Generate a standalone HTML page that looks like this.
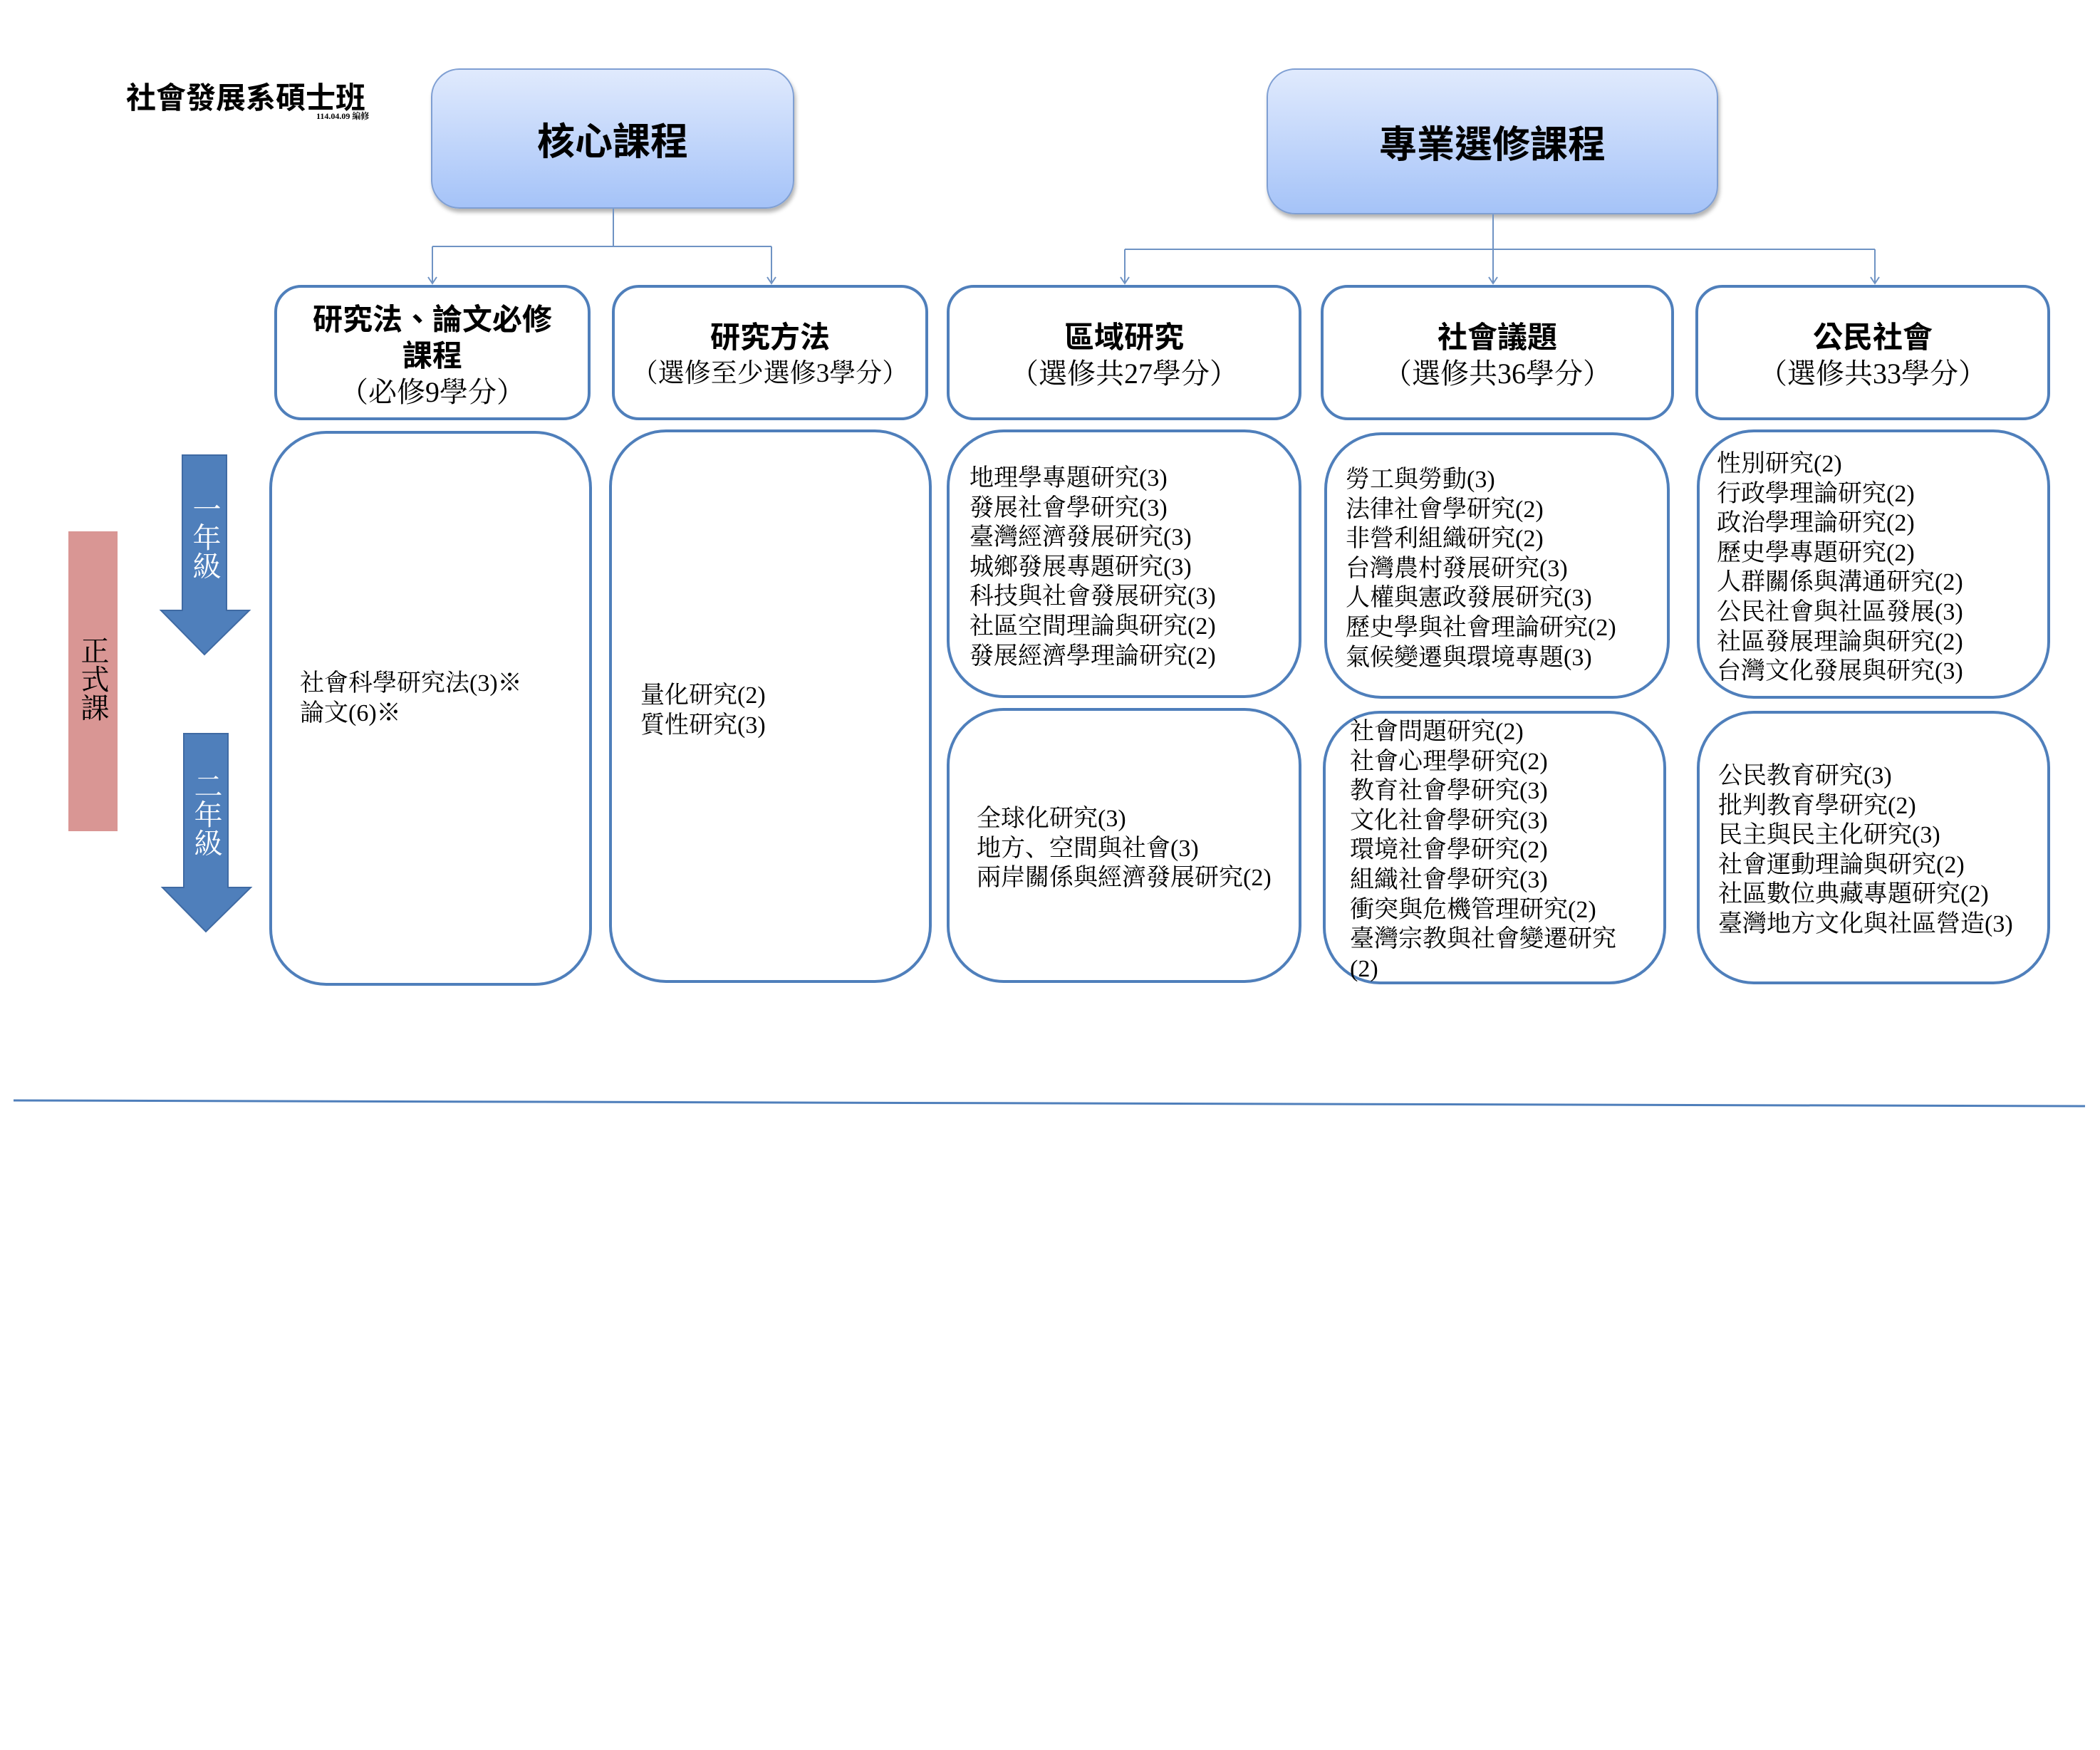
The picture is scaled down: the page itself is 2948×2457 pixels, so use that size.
<!DOCTYPE html>
<html><head><meta charset="utf-8"><style>
body{margin:0;width:2948px;height:2457px;background:#fff;position:relative;overflow:hidden;font-family:"Liberation Serif","Noto Serif CJK SC","Noto Sans CJK TC",serif;color:#000}
div{position:absolute;box-sizing:border-box}
.top{border:2px solid #7f9fd3;border-radius:40px;background:linear-gradient(#e0eafd,#a5c3f8);box-shadow:2px 5px 6px rgba(0,0,0,.3);display:flex;align-items:center;justify-content:center;font-weight:bold;font-size:53px;font-family:"Liberation Sans","Noto Sans CJK TC",sans-serif}
.hd{border:4px solid #4f7fbb;border-radius:38px;text-align:center;font-size:40px;line-height:51px;display:flex;flex-direction:column;justify-content:center;padding-top:8px}
.hd b{font-size:42px;font-family:"Liberation Sans","Noto Sans CJK TC",sans-serif}
.bx{border:4px solid #4f7fbb;border-radius:80px}
.tx{font-size:34px;line-height:41.6px;white-space:nowrap}
.vt{writing-mode:vertical-rl;color:#fff;font-size:40px;line-height:40px;font-family:"Liberation Serif","Noto Serif CJK SC",serif}
</style></head><body>
<div style="left:177px;top:104px;font-size:42px;font-weight:bold;font-family:'Liberation Sans','Noto Sans CJK TC',sans-serif;white-space:nowrap">社會發展系碩士班</div>
<div style="left:444px;top:154px;font-size:12px;font-weight:bold;white-space:nowrap">114.04.09 編修</div>

<div class="top" style="left:605px;top:96px;width:510px;height:197px">核心課程</div>
<div class="top" style="left:1778px;top:96px;width:634px;height:205px">專業選修課程</div>

<svg style="position:absolute;left:0;top:0" width="2948" height="2457">
<g stroke="#6f93c4" stroke-width="2" fill="none">
<path d="M861 293V346M607 346H1083M607 346V397M1083 346V397"/>
<path d="M2096 301V350M1579 350H2632M1579 350V397M2096 350V397M2632 350V397"/>
<path d="M601 389l6 9 6-9M1077 389l6 9 6-9M1573 389l6 9 6-9M2090 389l6 9 6-9M2626 389l6 9 6-9"/>
</g>
<line x1="19" y1="1545" x2="2927" y2="1553" stroke="#4f7fbb" stroke-width="3"/>
<polygon points="256,639 318,639 318,857 350,857 287,919 226,857 256,857" fill="#4f7fbb" stroke="#3f6aa3" stroke-width="2"/>
<polygon points="258,1030 320,1030 320,1246 352,1246 289,1308 228,1246 258,1246" fill="#4f7fbb" stroke="#3f6aa3" stroke-width="2"/>
</svg>
<div class="vt" style="left:267px;top:694px">一年級</div>
<div class="vt" style="left:269px;top:1083px">二年級</div>
<div style="left:96px;top:746px;width:69px;height:421px;background:#d99694"></div>
<div style="left:110px;top:893px;writing-mode:vertical-rl;font-size:40px;line-height:40px;font-family:'Liberation Serif','Noto Serif CJK SC',serif">正式課</div>

<div class="hd" style="left:385px;top:400px;width:444px;height:190px"><b>研究法、論文必修</b><b>課程</b><span>（必修9學分）</span></div>
<div class="hd" style="left:859px;top:400px;width:444px;height:190px"><b>研究方法</b><span style="font-size:37px">（選修至少選修3學分）</span></div>
<div class="hd" style="left:1329px;top:400px;width:498px;height:190px"><b>區域研究</b><span>（選修共27學分）</span></div>
<div class="hd" style="left:1854px;top:400px;width:496px;height:190px"><b>社會議題</b><span>（選修共36學分）</span></div>
<div class="hd" style="left:2380px;top:400px;width:498px;height:190px"><b>公民社會</b><span>（選修共33學分）</span></div>

<div class="bx" style="left:378px;top:605px;width:453px;height:779px"></div>
<div class="bx" style="left:855px;top:603px;width:453px;height:777px"></div>
<div class="bx" style="left:1329px;top:603px;width:498px;height:377px"></div>
<div class="bx" style="left:1329px;top:994px;width:498px;height:386px"></div>
<div class="bx" style="left:1859px;top:607px;width:485px;height:374px"></div>
<div class="bx" style="left:1857px;top:998px;width:482px;height:384px"></div>
<div class="bx" style="left:2382px;top:603px;width:496px;height:378px"></div>
<div class="bx" style="left:2382px;top:998px;width:496px;height:384px"></div>

<div class="tx" style="left:421px;top:939px">社會科學研究法(3)※<br>論文(6)※</div>
<div class="tx" style="left:899px;top:956px">量化研究(2)<br>質性研究(3)</div>
<div class="tx" style="left:1361px;top:651px">地理學專題研究(3)<br>發展社會學研究(3)<br>臺灣經濟發展研究(3)<br>城鄉發展專題研究(3)<br>科技與社會發展研究(3)<br>社區空間理論與研究(2)<br>發展經濟學理論研究(2)</div>
<div class="tx" style="left:1371px;top:1129px">全球化研究(3)<br>地方、空間與社會(3)<br>兩岸關係與經濟發展研究(2)</div>
<div class="tx" style="left:1889px;top:653px">勞工與勞動(3)<br>法律社會學研究(2)<br>非營利組織研究(2)<br>台灣農村發展研究(3)<br>人權與憲政發展研究(3)<br>歷史學與社會理論研究(2)<br>氣候變遷與環境專題(3)</div>
<div class="tx" style="left:1895px;top:1007px">社會問題研究(2)<br>社會心理學研究(2)<br>教育社會學研究(3)<br>文化社會學研究(3)<br>環境社會學研究(2)<br>組織社會學研究(3)<br>衝突與危機管理研究(2)<br>臺灣宗教與社會變遷研究<br>(2)</div>
<div class="tx" style="left:2410px;top:631px">性別研究(2)<br>行政學理論研究(2)<br>政治學理論研究(2)<br>歷史學專題研究(2)<br>人群關係與溝通研究(2)<br>公民社會與社區發展(3)<br>社區發展理論與研究(2)<br>台灣文化發展與研究(3)</div>
<div class="tx" style="left:2412px;top:1069px">公民教育研究(3)<br>批判教育學研究(2)<br>民主與民主化研究(3)<br>社會運動理論與研究(2)<br>社區數位典藏專題研究(2)<br>臺灣地方文化與社區營造(3)</div>
</body></html>
